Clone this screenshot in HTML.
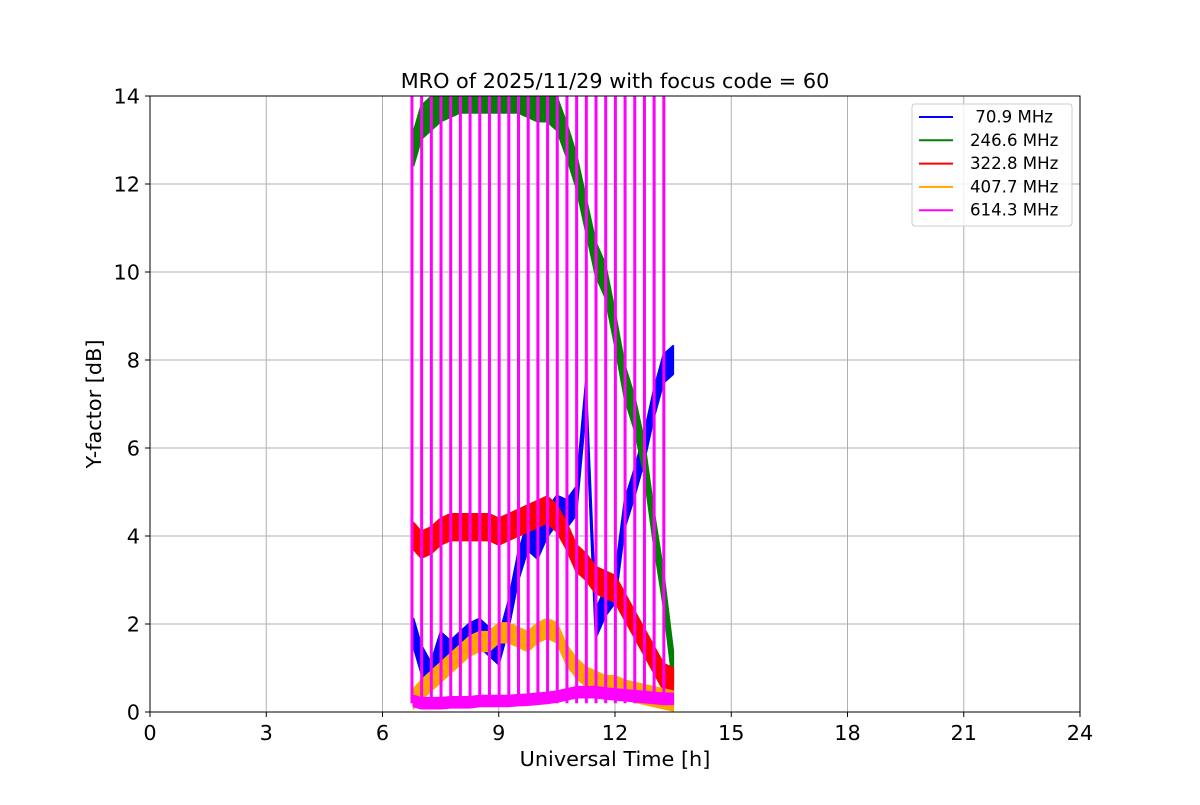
<!DOCTYPE html>
<html><head><meta charset="utf-8"><style>
body{margin:0;background:#fff;}
svg text{font-family:"DejaVu Sans","Liberation Sans",sans-serif;}
</style></head><body>
<svg id="chart" width="1200" height="800" xmlns="http://www.w3.org/2000/svg">
<defs><clipPath id="plotclip"><rect x="150" y="96" width="930" height="616"/></clipPath></defs>
<rect width="1200" height="800" fill="#fff"/>
<g id="grid"></g>
<g id="series" clip-path="url(#plotclip)"></g>
<rect x="150" y="96" width="930" height="616" fill="none" stroke="#000" stroke-width="1"/>
<g id="axes"></g>
<text x="615" y="88" text-anchor="middle" font-size="20.8">MRO of 2025/11/29 with focus code = 60</text>
<text x="615" y="766" text-anchor="middle" font-size="20.8">Universal Time [h]</text>
<text x="101" y="404" text-anchor="middle" font-size="20.8" transform="rotate(-90 101 404)">Y-factor [dB]</text>
<g id="legend"></g>
</svg>
<script>
const xTicks=[0,3,6,9,12,15,18,21,24];
const yTicks=[0,2,4,6,8,10,12,14];
const times=[6.8,7,7.25,7.5,7.75,8,8.25,8.5,8.75,9,9.25,9.5,9.75,10,10.25,10.5,10.75,11,11.25,11.5,11.75,12,12.25,12.5,12.75,13,13.25,13.5];
const blueVals=[1.8,1.2,0.8,1.5,1.3,1.5,1.7,1.8,1.6,1.4,2.2,3.3,4.0,3.8,4.3,4.6,4.5,4.8,7.2,2.0,2.5,2.8,4.5,5.2,6.0,7.0,7.8,8.0];
const greenVals=[12.8,13.4,13.6,13.8,13.9,14.0,14.0,14.0,14.0,14.0,14.0,14.0,13.9,13.8,13.8,13.6,13.0,12.3,11.3,10.3,9.8,8.7,7.5,6.8,5.8,4.2,2.8,1.0];
const redVals=[4.0,3.8,3.9,4.1,4.2,4.2,4.2,4.2,4.2,4.1,4.2,4.3,4.4,4.5,4.6,4.4,4.0,3.5,3.3,3.0,2.9,2.8,2.4,2.0,1.6,1.2,0.8,0.7];
const orangeVals=[0.3,0.5,0.7,0.9,1.1,1.3,1.5,1.6,1.6,1.8,1.8,1.7,1.6,1.8,1.9,1.8,1.3,1.0,0.8,0.7,0.6,0.6,0.5,0.45,0.4,0.35,0.3,0.25];
const magentaVals=[0.25,0.2,0.2,0.2,0.22,0.22,0.22,0.25,0.25,0.25,0.25,0.27,0.28,0.3,0.32,0.35,0.4,0.45,0.45,0.45,0.42,0.4,0.38,0.36,0.34,0.32,0.3,0.3];
const bandWidths=[0.32,0.38,0.3,0.22,0.12];
const spikeTimes=[6.76,7.01,7.26,7.51,7.76,8.01,8.26,8.51,8.76,9.01,9.26,9.51,9.76,10.01,10.26,10.51,10.76,11.01,11.26,11.51,11.76,12.01,12.26,12.51,12.76,13.01,13.26];
const labels=[" 70.9 MHz","246.6 MHz","322.8 MHz","407.7 MHz","614.3 MHz"];
const colors=["#0000ff","#008000","#ff0000","#ffa500","#ff00ff"];
const NS="http://www.w3.org/2000/svg";
const X=t=>150+t*930/24, Y=v=>712-v*44;
function mk(tag,attrs,parent){const e=document.createElementNS(NS,tag);for(const k in attrs)e.setAttribute(k,attrs[k]);parent.appendChild(e);return e;}
const grid=document.getElementById('grid'),axes=document.getElementById('axes'),series=document.getElementById('series'),legend=document.getElementById('legend');
xTicks.forEach(t=>{
  const l=mk('line',{x1:X(t),x2:X(t),y1:96,y2:712,stroke:'#b0b0b0','stroke-width':1},grid);
  
  
  mk('line',{x1:X(t),x2:X(t),y1:712,y2:717,stroke:'#000'},axes);
  const tx=mk('text',{x:X(t),y:740,'text-anchor':'middle','font-size':20.8},axes);tx.textContent=t;
  
  
});
yTicks.forEach(v=>{
  const l=mk('line',{x1:150,x2:1080,y1:Y(v),y2:Y(v),stroke:'#b0b0b0','stroke-width':1},grid);
  
  
  mk('line',{x1:145,x2:150,y1:Y(v),y2:Y(v),stroke:'#000'},axes);
  const tx=mk('text',{x:140,y:Y(v)+7.5,'text-anchor':'end','font-size':20.8},axes);tx.textContent=v;
  
  
});
const all=[blueVals,greenVals,redVals,orangeVals,magentaVals];
all.forEach((vals,i)=>{
  const w=bandWidths[i];
  let up=times.map((t,j)=>X(t)+','+Y(vals[j]+w)).join(' ');
  let dn=times.slice().reverse().map((t,j)=>X(t)+','+Y(vals[vals.length-1-j]-w)).join(' ');
  const p=mk('polygon',{points:up+' '+dn,fill:colors[i],stroke:colors[i],'stroke-width':2,'stroke-linejoin':'round'},series);
  
  
});
spikeTimes.forEach(t=>{
  const l=mk('line',{x1:X(t),x2:X(t),y1:Y(0.2),y2:Y(15),stroke:colors[4],'stroke-width':3},series);
  
  
});
const lb=mk('rect',{x:912,y:104,width:160,height:122,rx:3,fill:'#fff','fill-opacity':0.8,stroke:'#ccc'},legend);


labels.forEach((s,i)=>{
  const y=117+i*23.3;
  const g=mk('g',{},legend);
  
  
  mk('line',{x1:919,x2:953,y1:y,y2:y,stroke:colors[i],'stroke-width':2},g);
  const t=mk('text',{x:970,y:y+5.5,'font-size':16.6},g);t.textContent=s;t.style.whiteSpace='pre';
});
</script>
</body></html>
